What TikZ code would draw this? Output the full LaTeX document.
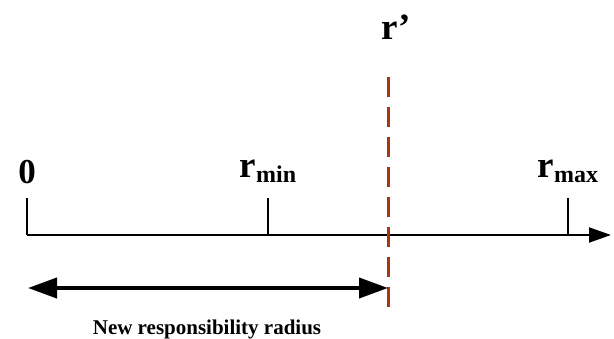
\documentclass[tikz,border=0pt]{standalone}
\usepackage{fontspec}
\setmainfont{Liberation Serif}
\usetikzlibrary{arrows.meta}

\definecolor{cutred}{RGB}{165,55,15}
\newcommand{\lowsub}[1]{\raisebox{-5pt}{\fontsize{24}{26}\selectfont\bfseries #1}}

\tikzset{
    ticklabel/.style={anchor=base, inner sep=0pt, font=\fontsize{37}{40}\selectfont\bfseries},
    tickmark/.style={line width=1.6pt},
    cutline/.style={cutred, line width=3pt, dash pattern=on 20pt off 10pt},
    spanarrow/.style={line width=4pt, {Triangle[length=29pt, width=20pt]}-{Triangle[length=29pt, width=20pt]}}
}

\begin{document}
\begin{tikzpicture}[x=1pt, y=-1pt]
    \useasboundingbox (0,0) rectangle (614,338);

    % Axis
    \coordinate (o) at (27,235);
    \coordinate (axisend) at (611,235);
    \draw[line width=2pt, -{Triangle[length=22pt, width=15pt]}] (o) -- (axisend);

    % Tick marks and their labels
    \foreach \x/\y/\name/\lab in {27/183/zero/{\fontsize{35}{38}\selectfont 0},
                                  268/177/rmin/{r\lowsub{min}},
                                  568/177/rmax/{r\lowsub{max}}} {
        \coordinate (\name tick) at (\x,198);
        \draw[tickmark] (\name tick) -- (\name tick |- o);
        \node[ticklabel] (\name) at (\x,\y) {\lab};
    }

    % New radius r'
    \node[ticklabel] (rnew) at (396,39) {r\kern1pt\textquoteright};
    \coordinate (cuttop) at (388,77);
    \coordinate (cutbot) at (388,307);
    \draw[cutline] (cuttop) -- (cutbot);

    % Responsibility range
    \coordinate (spanleft) at (28,288);
    \coordinate (spanright) at (388,288);
    \draw[spanarrow] (spanleft) -- (spanright);
    \node[anchor=base, inner sep=0pt, font=\fontsize{21}{23}\selectfont\bfseries] (spanlabel) at (207,334) {New responsibility radius};
\end{tikzpicture}
\end{document}
